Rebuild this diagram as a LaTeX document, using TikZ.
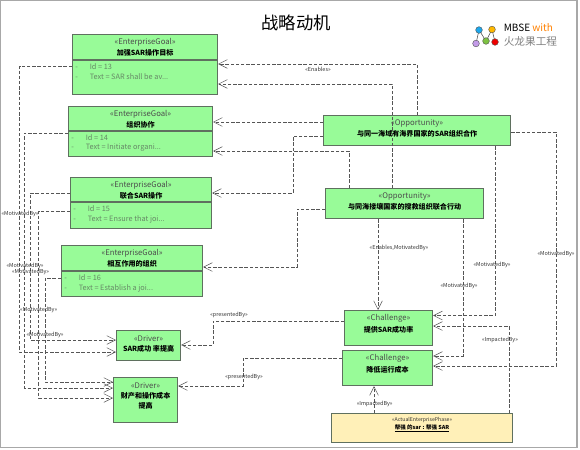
\documentclass[tikz,border=0pt]{standalone}
\usepackage{fontspec}
\setmainfont{Noto Sans CJK SC}
\usetikzlibrary{arrows.meta,positioning}
\definecolor{boxgreen}{HTML}{98FB98}
\definecolor{boxedge}{HTML}{5F705F}
\definecolor{phaseyellow}{HTML}{FFF0B8}
\definecolor{attrgray}{HTML}{668866}
\definecolor{framegray}{HTML}{A8A8A8}
\definecolor{relgray}{HTML}{555555}
\tikzset{
  elembox/.style={draw=boxedge,line width=0.9pt,fill=boxgreen,inner sep=0pt,anchor=north west},
  stereo/.style={font=\fontsize{5.8}{7}\selectfont,text=black!70,inner sep=0pt},
  elemname/.style={font=\fontsize{5.3}{7.5}\selectfont\bfseries,inner sep=0pt,align=center},
  attr/.style={font=\fontsize{5.5}{7}\selectfont,text=attrgray,inner sep=0pt,anchor=west},
  rel/.style={dash pattern=on 2.5pt off 1.4pt,draw=relgray,line width=0.55pt,-{Straight Barb[length=6.5pt,width=6.5pt,line width=0.35pt]}},
  rellabel/.style={font=\fontsize{4.1}{5}\selectfont,text=black!80,inner sep=0.5pt},
  logodot/.style={circle,draw=black!70,line width=0.3pt,minimum size=5pt,inner sep=0pt}
}
\definecolor{dotblue}{HTML}{1CA7EC}
\definecolor{dotorange}{HTML}{FFB800}
\definecolor{dotpurple}{HTML}{C39BE8}
\definecolor{dotgreen}{HTML}{7DC242}
\definecolor{dotred}{HTML}{EE0000}
\begin{document}
\begin{tikzpicture}[x=0.75pt,y=-0.75pt]
\useasboundingbox (0,0) rectangle (580,449);
\draw[framegray,line width=1pt] (0.7,0.7) -- (577,0.7) -- (577,447.8) -- (0.7,447.8) -- cycle;
\node[font=\fontsize{13}{15}\selectfont] (title) at (296,23) {战略动机};
% logo
\draw[black!70,line width=0.4pt] (476,43.5)--(479,30)--(486,41)--(492,29.5)--(495,42);
\node[logodot,fill=dotblue] (dota) at (479,30) {};
\node[logodot,fill=dotorange] (dotb) at (492,29.5) {};
\node[logodot,fill=dotpurple] (dotc) at (476,43.5) {};
\node[logodot,fill=dotgreen] (dotd) at (486,41) {};
\node[logodot,fill=dotred] (dote) at (495,42) {};
\node[anchor=west,inner sep=0pt,font=\fontsize{7.5}{9}\selectfont] (mbse) at (503.5,28) {MBSE \textcolor{orange}{with}};
\node[anchor=west,inner sep=0pt,font=\fontsize{8}{9}\selectfont,text=black!50] (logoname) at (503.5,41.5) {火龙果工程};
% goals
\foreach \nm/\xa/\ya/\bw/\bh/\dv/\ttl/\ida/\txt in {
  ga/72/34/145/60/60/加强SAR操作目标/13/{SAR shall be av...},
  gb/68/106/144/50/131/组织协作/14/{Initiate organi...},
  gc/70/177/141/51/202/联合SAR操作/15/{Ensure that joi...},
  gd/61/245/141/51/271/相互作用的组织/16/{Establish a joi...}} {
  \node[elembox,minimum width=\bw*0.75pt,minimum height=\bh*0.75pt] (\nm) at (\xa,\ya) {};
  \draw[boxedge,line width=0.8pt] (\nm.west |- 0,\dv) -- (\nm.east |- 0,\dv);
  \node[stereo] (\nm s) at ([yshift=-6.2pt]\nm.north) {«EnterpriseGoal»};
  \node[elemname] (\nm n) at ([yshift=-14pt]\nm.north) {\ttl};
  \node[attr] (\nm i) at (\xa+3,\dv+7) {-\hspace{9pt}Id = \ida};
  \node[attr] (\nm t) at (\xa+3,\dv+17) {-\hspace{9pt}Text = \txt};
}
% drivers, opportunities, challenges
\foreach \nm/\xa/\ya/\bw/\bh/\oy/\st/\ttl in {
  da/116/330/64/30/14/Driver/SAR成功 率提高,
  db/113/377/64/45/17.7/Driver/{财产和操作成本\\提高},
  oa/323/115/187/30/14/Opportunity/与同一海域有海界国家的SAR组织合作,
  ob/325/188/158/30/14/Opportunity/与同海接壤国家的搜救组织联合行动,
  ca/344/310/88/35/14.7/Challenge/提供SAR成功率,
  cb/342/350/90/35/14.7/Challenge/降低运行成本} {
  \node[elembox,minimum width=\bw*0.75pt,minimum height=\bh*0.75pt] (\nm) at (\xa,\ya) {};
  \node[stereo] (\nm s) at ([yshift=-6.2pt]\nm.north) {«\st»};
  \node[elemname] (\nm n) at ([yshift=-\oy pt]\nm.north) {\ttl};
}
\node[elembox,fill=phaseyellow,minimum width=135.75pt,minimum height=21.75pt] (ph) at (331,413) {};
\node[rellabel,font=\fontsize{3.9}{5}\selectfont] (phs) at ([yshift=-5.3pt]ph.north) {«ActualEnterprisePhase»};
\node[font=\fontsize{4.1}{5}\selectfont\bfseries,inner sep=0pt] (phn) at ([yshift=-11.5pt]ph.north) {\underline{帮强 的sar : 帮强 SAR}};
% right side relations
\draw[rel] (oa.north -| 417,0) |- (ga.east |- 0,64);
\draw[rel] (ob.north -| 392.5,0) |- (ga.east |- 0,84);
\draw[rel] (oa.west |- 0,122) -- (gb.east |- 0,122);
\draw[rel] (ob.north -| 349,0) |- (gb.east |- 0,151);
\draw[rel] (oa.west |- 0,136) -- (293,136) -- (293,193) -- (gc.east |- 0,193);
\draw[rel] (ob.west |- 0,209) -- (297,209) -- (297,267) -- (gd.east |- 0,267);
\draw[rel] (ob.south -| 378,0) -- (ca.north -| 378,0);
\draw[rel] (oa.south -| 495,0) |- (ca.east |- 0,315.5);
\draw[rel] (ob.south -| 463,0) |- (cb.east |- 0,356);
\draw[rel] (oa.east |- 0,132) -- (556,132) -- (556,366) -- (cb.east |- 0,366);
\draw[rel] (ph.north -| 509,0) |- (ca.east |- 0,326);
\draw[rel] (ph.north -| 374,0) -- (cb.south -| 374,0);
\draw[rel] (ca.west |- 0,321) -- (213,321) -- (213,345) -- (da.east |- 0,345);
\draw[rel] (cb.west |- 0,358) -- (243,358) -- (243,386) -- (db.east |- 0,386);
% left side relations
\draw[rel] (ga.west |- 0,66) -- (19.5,66) -- (19.5,352) -- (da.west |- 0,352);
\draw[rel] (gb.west |- 0,133) -- (24.5,133) -- (24.5,388) -- (db.west |- 0,388);
\draw[rel] (gc.west |- 0,193) -- (30.5,193) -- (30.5,340) -- (da.west |- 0,340);
\draw[rel] (gc.west |- 0,211) -- (38.5,211) -- (38.5,398) -- (db.west |- 0,398);
\draw[rel] (gd.west |- 0,278) -- (45,278) -- (45,382) -- (db.west |- 0,382);
% relation labels
\foreach \nm/\xa/\ya/\tx in {
  la/318/69/Enables,
  lb/20/214/MotivatedBy,
  lc/25/266/MotivatedBy,
  ld/30.5/272/MotivatedBy,
  le/38.7/310/MotivatedBy,
  lf/45/335/MotivatedBy,
  lg/229/315/presentedBy,
  lh/244/377/presentedBy,
  li/399/248/{Enables,MotivatedBy},
  lj/492/265/MotivatedBy,
  lk/459/286/MotivatedBy,
  lm/556/254/MotivatedBy,
  ln/500/340/ImpactedBy,
  lo/374.7/404/ImpactedBy} {
  \node[rellabel] (\nm) at (\xa,\ya) {«\tx»};
}
\end{tikzpicture}
\end{document}
